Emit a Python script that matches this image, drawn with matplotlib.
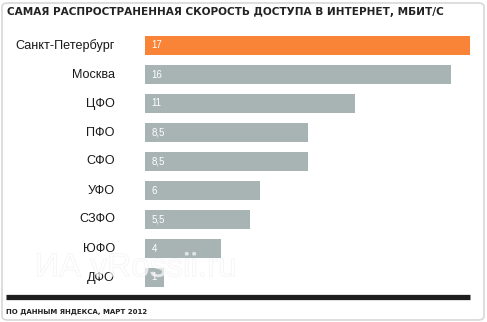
import matplotlib.pyplot as plt
import matplotlib.patheffects as pe
from matplotlib.patches import FancyBboxPatch

# Data
regions = ['Санкт-Петербург', 'Москва', 'ЦФО', 'ПФО', 'СФО', 'УФО', 'СЗФО', 'ЮФО', 'ДФО']
speeds = [17, 16, 11, 8.5, 8.5, 6, 5.5, 4, 1]
speed_labels = ['17', '16', '11', '8,5', '8,5', '6', '5,5', '4', '1']
colors = ['#f98336'] + ['#a8b4b4'] * 8

W, H = 487, 322
fig = plt.figure(figsize=(W / 100, H / 100), dpi=100)
fig.patch.set_facecolor('white')

# rounded frame
frame = FancyBboxPatch((2 / W, 2 / H), (W - 5) / W, (H - 5) / H,
                       boxstyle='round,pad=0,rounding_size=0.012',
                       transform=fig.transFigure, facecolor='none',
                       edgecolor='#d8d8d8', linewidth=1.2, zorder=-1)
fig.patches.append(frame)

# axes: bars from x=145 to 470 px (0..17), rows from y=31 to 292 px
ax = fig.add_axes([145 / W, 1 - 292 / H, 325 / W, 261 / H])
y = range(len(regions))
ax.barh(y, speeds, height=0.655, color=colors)
ax.set_xlim(0, 17)
ax.set_ylim(len(regions) - 0.5, -0.5)
ax.axis('off')

for i, (name, lab) in enumerate(zip(regions, speed_labels)):
    ax.text(-30 / 19.1, i, name, ha='right', va='center', fontsize=9.1,
            family='Liberation Sans', color='#1a1a1a')
    ax.text(0.35, i, lab, ha='left', va='center', fontsize=7,
            family=['Liberation Sans Narrow', 'Liberation Sans'], color='white')

# title
fig.text(7 / W, 1 - 12 / H, 'САМАЯ РАСПРОСТРАНЕННАЯ СКОРОСТЬ ДОСТУПА В ИНТЕРНЕТ, МБИТ/С',
         ha='left', va='center', fontsize=7.6, fontweight='bold', color='#222222',
         family='DejaVu Sans')

# black rule and source note
fig.add_artist(plt.Line2D([6 / W, 470 / W], [1 - 296.5 / H, 1 - 296.5 / H],
                          color='#1e1e1e', linewidth=3.8, solid_capstyle='butt'))
fig.text(6 / W, 1 - 312 / H, 'ПО ДАННЫМ ЯНДЕКСА, МАРТ 2012', ha='left', va='center',
         fontsize=5, fontweight='bold', color='#222222', family='DejaVu Sans')

# faint watermark
fig.text(35 / W, 1 - 268 / H, 'ИА vRossii.ru', ha='left', va='center', fontsize=24,
         color='white', family='Liberation Sans', alpha=0.45, zorder=5,
         path_effects=[pe.withStroke(linewidth=0.7, foreground='#e6e6e6')])

plt.savefig('out.png', dpi=100)
